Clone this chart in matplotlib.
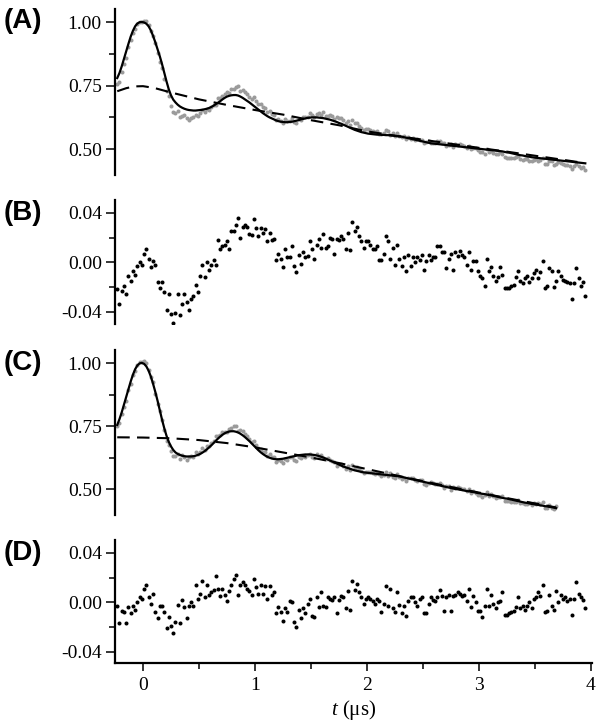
import numpy as np
import matplotlib
matplotlib.use("Agg")
import matplotlib.pyplot as plt
from matplotlib.ticker import MultipleLocator, FixedLocator

plt.rcParams['font.family'] = ['Liberation Serif', 'DejaVu Serif']
plt.rcParams['mathtext.fontset'] = 'custom'
plt.rcParams['mathtext.rm'] = 'Liberation Serif'
plt.rcParams['mathtext.it'] = 'Liberation Serif:italic'

# sampling of the traces (us)
t0 = -0.23
dt = 0.02

# panel A: fit of the dipolar trace
fit_a = [
    0.780, 0.800, 0.826, 0.856, 0.886, 0.915, 0.943, 0.966, 0.984, 0.995,
    1.000, 1.001, 0.999, 0.994, 0.984, 0.968, 0.946, 0.921, 0.894, 0.866,
    0.835, 0.801, 0.767, 0.736, 0.712, 0.695, 0.684, 0.675, 0.668, 0.663,
    0.659, 0.656, 0.654, 0.653, 0.652, 0.652, 0.653, 0.654, 0.655, 0.657,
    0.659, 0.662, 0.666, 0.671, 0.677, 0.683, 0.689, 0.696, 0.702, 0.707,
    0.710, 0.712, 0.713, 0.713, 0.711, 0.707, 0.702, 0.696, 0.690, 0.684,
    0.677, 0.670, 0.663, 0.656, 0.649, 0.642, 0.636, 0.630, 0.625, 0.621,
    0.617, 0.613, 0.610, 0.608, 0.607, 0.606, 0.606, 0.607, 0.608, 0.610,
    0.612, 0.614, 0.617, 0.619, 0.621, 0.623, 0.624, 0.625, 0.625, 0.625,
    0.624, 0.623, 0.622, 0.620, 0.618, 0.616, 0.613, 0.610, 0.607, 0.603,
    0.600, 0.596, 0.592, 0.588, 0.584, 0.580, 0.576, 0.573, 0.570, 0.567,
    0.565, 0.563, 0.561, 0.560, 0.559, 0.558, 0.557, 0.557, 0.556, 0.556,
    0.555, 0.555, 0.554, 0.553, 0.552, 0.551, 0.550, 0.549, 0.547, 0.545,
    0.543, 0.541, 0.539, 0.537, 0.535, 0.533, 0.531, 0.529, 0.527, 0.525,
    0.523, 0.522, 0.521, 0.520, 0.519, 0.518, 0.517, 0.516, 0.515, 0.514,
    0.513, 0.512, 0.511, 0.510, 0.509, 0.508, 0.507, 0.506, 0.505, 0.504,
    0.503, 0.502, 0.501, 0.500, 0.499, 0.498, 0.497, 0.496, 0.495, 0.494,
    0.493, 0.492, 0.491, 0.489, 0.487, 0.486, 0.484, 0.482, 0.480, 0.478,
    0.476, 0.475, 0.473, 0.471, 0.470, 0.468, 0.467, 0.466, 0.465, 0.464,
    0.463, 0.462, 0.461, 0.460, 0.459, 0.458, 0.457, 0.456, 0.455, 0.454,
    0.453, 0.452, 0.451, 0.450, 0.449, 0.448, 0.447, 0.446, 0.445, 0.444,
]

# panel B: residual of fit A
res_b = [
    -0.022, -0.034, -0.023, -0.019, -0.026, -0.011, -0.015, -0.007, -0.010, -0.003,
    0.000, -0.002, 0.007, 0.011, 0.003, -0.004, 0.001, -0.002, -0.016, -0.021,
    -0.016, -0.024, -0.039, -0.026, -0.042, -0.049, -0.041, -0.026, -0.043, -0.034,
    -0.026, -0.032, -0.039, -0.030, -0.027, -0.018, -0.024, -0.011, -0.002, -0.012,
    0.000, -0.006, -0.002, 0.002, -0.002, 0.018, 0.011, 0.013, 0.014, 0.017,
    0.011, 0.025, 0.025, 0.030, 0.036, 0.020, 0.029, 0.030, 0.029, 0.023,
    0.022, 0.035, 0.028, 0.021, 0.028, 0.024, 0.027, 0.017, 0.024, 0.018,
    0.019, 0.002, 0.007, 0.003, -0.004, 0.011, 0.004, 0.004, 0.013, -0.003,
    -0.008, 0.006, -0.001, 0.008, 0.004, 0.005, 0.017, 0.011, 0.003, 0.014,
    0.019, 0.012, 0.023, 0.012, 0.013, 0.020, 0.019, 0.007, 0.019, 0.018,
    0.021, 0.019, 0.011, 0.024, 0.010, 0.033, 0.025, 0.029, 0.021, 0.017,
    0.012, 0.017, 0.017, 0.014, 0.011, 0.011, 0.013, 0.002, 0.002, 0.007,
    0.021, 0.017, 0.003, 0.012, -0.002, 0.014, 0.003, -0.003, 0.004, -0.007,
    0.006, -0.003, 0.004, 0.000, 0.004, 0.002, 0.006, -0.006, 0.001, 0.006,
    0.002, 0.004, 0.004, 0.013, 0.013, 0.008, 0.008, -0.005, 0.003, 0.007,
    -0.006, 0.008, 0.005, 0.009, 0.006, 0.004, -0.002, 0.008, -0.006, 0.001,
    0.001, -0.007, -0.011, -0.013, -0.019, 0.003, -0.007, -0.004, -0.011, -0.015,
    -0.012, -0.004, -0.010, -0.021, -0.021, -0.021, -0.019, -0.018, -0.012, -0.007,
    -0.015, -0.017, -0.013, -0.011, -0.016, -0.013, -0.009, -0.006, -0.013, -0.008,
    0.001, -0.021, -0.019, -0.005, -0.007, -0.020, -0.015, -0.007, -0.011, -0.014,
    -0.015, -0.016, -0.017, -0.030, -0.017, -0.005, -0.013, -0.019, -0.016, -0.027,
]

# panel C: fit of the dipolar trace
fit_c = [
    0.755, 0.778, 0.805, 0.835, 0.866, 0.897, 0.927, 0.954, 0.976, 0.991,
    0.999, 1.001, 0.997, 0.987, 0.970, 0.947, 0.918, 0.886, 0.851, 0.813,
    0.776, 0.742, 0.712, 0.688, 0.670, 0.656, 0.646, 0.640, 0.636, 0.633,
    0.631, 0.630, 0.630, 0.630, 0.631, 0.633, 0.636, 0.640, 0.645, 0.651,
    0.658, 0.666, 0.674, 0.683, 0.692, 0.701, 0.709, 0.716, 0.722, 0.726,
    0.729, 0.730, 0.730, 0.728, 0.725, 0.720, 0.714, 0.707, 0.699, 0.691,
    0.682, 0.673, 0.664, 0.655, 0.647, 0.640, 0.634, 0.629, 0.625, 0.622,
    0.620, 0.619, 0.619, 0.620, 0.621, 0.623, 0.625, 0.627, 0.629, 0.631,
    0.633, 0.635, 0.636, 0.637, 0.638, 0.638, 0.638, 0.637, 0.636, 0.634,
    0.632, 0.629, 0.626, 0.622, 0.618, 0.614, 0.610, 0.606, 0.602, 0.598,
    0.594, 0.590, 0.587, 0.584, 0.581, 0.578, 0.575, 0.573, 0.571, 0.569,
    0.567, 0.566, 0.565, 0.564, 0.563, 0.562, 0.561, 0.560, 0.559, 0.558,
    0.557, 0.556, 0.555, 0.554, 0.553, 0.552, 0.551, 0.549, 0.547, 0.545,
    0.543, 0.541, 0.539, 0.537, 0.535, 0.533, 0.531, 0.529, 0.527, 0.525,
    0.523, 0.521, 0.519, 0.517, 0.515, 0.513, 0.511, 0.509, 0.507, 0.505,
    0.503, 0.501, 0.500, 0.498, 0.497, 0.495, 0.493, 0.492, 0.490, 0.489,
    0.487, 0.485, 0.484, 0.482, 0.481, 0.479, 0.477, 0.476, 0.474, 0.472,
    0.470, 0.468, 0.466, 0.464, 0.463, 0.461, 0.459, 0.457, 0.455, 0.453,
    0.451, 0.449, 0.447, 0.446, 0.444, 0.442, 0.441, 0.439, 0.438, 0.436,
    0.435, 0.433, 0.432, 0.430, 0.429, 0.427, 0.425,
]

# panel D: residual of fit C
res_d = [
    -0.003, -0.017, -0.007, -0.008, -0.017, -0.004, -0.009, -0.003, -0.006, 0.000,
    0.004, 0.003, 0.011, 0.014, 0.004, -0.001, 0.007, -0.008, -0.013, -0.003,
    -0.003, -0.008, -0.021, -0.012, -0.019, -0.025, -0.016, -0.002, -0.017, 0.002,
    -0.004, -0.013, -0.003, 0.000, -0.003, 0.014, 0.003, 0.007, 0.017, 0.004,
    0.014, 0.006, 0.008, 0.010, 0.021, 0.011, 0.005, 0.011, 0.006, 0.001,
    0.009, 0.014, 0.019, 0.022, 0.006, 0.014, 0.016, 0.014, 0.011, 0.009,
    0.006, 0.019, 0.012, 0.007, 0.014, 0.007, 0.013, 0.003, 0.013, 0.006,
    0.008, -0.009, -0.004, -0.008, -0.015, -0.005, -0.008, 0.001, 0.000, -0.016,
    -0.020, -0.006, -0.013, -0.005, -0.009, -0.001, 0.003, -0.011, -0.012, 0.004,
    -0.004, 0.008, -0.003, -0.004, 0.004, 0.003, 0.002, 0.004, -0.009, 0.002,
    0.005, 0.004, -0.005, 0.009, -0.006, 0.017, 0.010, 0.015, 0.008, 0.004,
    -0.001, 0.003, 0.004, 0.003, 0.001, -0.001, 0.003, 0.001, -0.008, -0.001,
    0.013, -0.003, 0.011, -0.005, -0.008, 0.008, -0.002, -0.009, -0.003, -0.011,
    0.001, 0.004, 0.004, 0.000, -0.003, 0.003, 0.004, -0.009, -0.009, -0.001,
    0.004, 0.002, 0.001, 0.004, 0.010, 0.005, -0.007, 0.004, 0.006, -0.007,
    0.005, 0.006, 0.008, 0.007, 0.005, 0.006, 0.001, 0.011, -0.004, 0.005,
    0.000, -0.007, -0.007, -0.012, -0.003, 0.011, -0.003, 0.006, -0.001, -0.005,
    0.000, 0.001, 0.008, -0.010, -0.010, -0.009, -0.008, -0.007, -0.004, 0.004,
    -0.005, -0.003, -0.006, -0.003, 0.000, -0.005, 0.003, 0.004, 0.008, 0.005,
    0.014, -0.008, -0.007, 0.006, -0.003, -0.006, 0.009, 0.000, 0.006, 0.003,
    0.004, 0.001, 0.003, -0.010, 0.003, 0.016, 0.007, 0.004, 0.002, -0.005,
]

# background (dashed) curves
t_bg_a = [-0.23, -0.15, -0.08, 0.0, 0.1, 0.25, 0.5, 0.75, 1.0, 1.25, 1.5, 1.75,
          2.0, 2.25, 2.5, 2.75, 3.0, 3.25, 3.5, 3.75, 3.93]
bg_a = [0.728, 0.740, 0.747, 0.748, 0.741, 0.723, 0.696, 0.674, 0.654, 0.636, 0.614, 0.594,
        0.570, 0.553, 0.537, 0.521, 0.505, 0.490, 0.474, 0.458, 0.446]
t_bg_c = [-0.23, 0.0, 0.25, 0.5, 0.75, 1.0, 1.25, 1.5, 1.75, 2.0, 2.25, 2.5,
          2.75, 3.0, 3.25, 3.5, 3.69]
bg_c = [0.706, 0.705, 0.702, 0.695, 0.683, 0.666, 0.646, 0.626, 0.604, 0.580, 0.556, 0.532,
        0.509, 0.487, 0.465, 0.444, 0.428]

t_ab = t0 + dt * np.arange(len(res_b))
t_cd = t0 + dt * np.arange(len(res_d))
t_fa = t0 + dt * np.arange(len(fit_a))
t_fc = t0 + dt * np.arange(len(fit_c))

# measured trace = fit + residual
data_a = np.array(fit_a) + np.array(res_b)[:len(fit_a)]
data_c = np.array(fit_c) + np.array(res_d)[:len(fit_c)]

W, H = 600, 728
fig = plt.figure(figsize=(W / 100, H / 100), dpi=100)

x0, x1 = 115, 592


def make_axes(top, bottom):
    return fig.add_axes([x0 / W, 1 - bottom / H, (x1 - x0) / W, (bottom - top) / H])


def style(ax, ylim, major, minor, fmt, bottom=False):
    ax.set_xlim(-0.25, 4.01)
    ax.set_ylim(*ylim)
    for s in ['top', 'right']:
        ax.spines[s].set_visible(False)
    ax.spines['left'].set_linewidth(1.6)
    ax.spines['bottom'].set_linewidth(1.6)
    ax.spines['bottom'].set_visible(bottom)
    ax.yaxis.set_major_locator(FixedLocator(major))
    ax.yaxis.set_minor_locator(FixedLocator(minor))
    ax.set_yticklabels([fmt.format(v) for v in major])
    ax.tick_params(axis='y', which='major', direction='out', length=6.5, width=1.1,
                   labelsize=14, pad=3)
    ax.tick_params(axis='y', which='minor', direction='out', length=4, width=1.1)
    if bottom:
        ax.xaxis.set_major_locator(MultipleLocator(1))
        ax.xaxis.set_minor_locator(MultipleLocator(0.5))
        ax.tick_params(axis='x', which='major', direction='out', length=6, width=1.1,
                       labelsize=14, pad=4)
        ax.tick_params(axis='x', which='minor', direction='out', length=4, width=1.1)
    else:
        ax.tick_params(axis='x', which='both', bottom=False, labelbottom=False)


def panel_label(text, ypix):
    fig.text(4 / W, 1 - ypix / H, text, fontsize=20, fontweight='bold',
             family=['Liberation Sans', 'DejaVu Sans'], va='center', ha='left')


gray = '#9b9b9b'

ax_a = make_axes(9, 175)
ax_a.plot(t_ab[:len(data_a)], data_a, 'o', color=gray, ms=2.9, mec='none')
ax_a.plot(t_bg_a, bg_a, color='black', lw=1.5, dashes=(6, 3.5))
ax_a.plot(t_fa, fit_a, color='black', lw=1.6)
style(ax_a, (0.398, 1.052), [0.5, 0.75, 1.0], [0.625, 0.875], '{:.2f}')

ax_b = make_axes(200, 324)
ax_b.plot(t_ab, res_b, 'o', color='black', ms=2.9, mec='none')
style(ax_b, (-0.05, 0.0505), [-0.04, 0.0, 0.04], [-0.02, 0.02], '{:.2f}')

ax_c = make_axes(350, 515)
ax_c.plot(t_fc, data_c, 'o', color=gray, ms=2.9, mec='none')
ax_c.plot(t_bg_c, bg_c, color='black', lw=1.5, dashes=(6, 3.5))
ax_c.plot(t_fc, fit_c, color='black', lw=1.6)
style(ax_c, (0.398, 1.052), [0.5, 0.75, 1.0], [0.625, 0.875], '{:.2f}')

ax_d = make_axes(540, 663)
ax_d.plot(t_cd, res_d, 'o', color='black', ms=2.9, mec='none')
style(ax_d, (-0.049, 0.0503), [-0.04, 0.0, 0.04], [-0.02, 0.02], '{:.2f}', bottom=True)
ax_d.set_xlabel(r'$t$ (μs)', fontsize=15, labelpad=3)

panel_label('(A)', 21)
panel_label('(B)', 213)
panel_label('(C)', 363)
panel_label('(D)', 553)

fig.savefig('out.png', dpi=100)
